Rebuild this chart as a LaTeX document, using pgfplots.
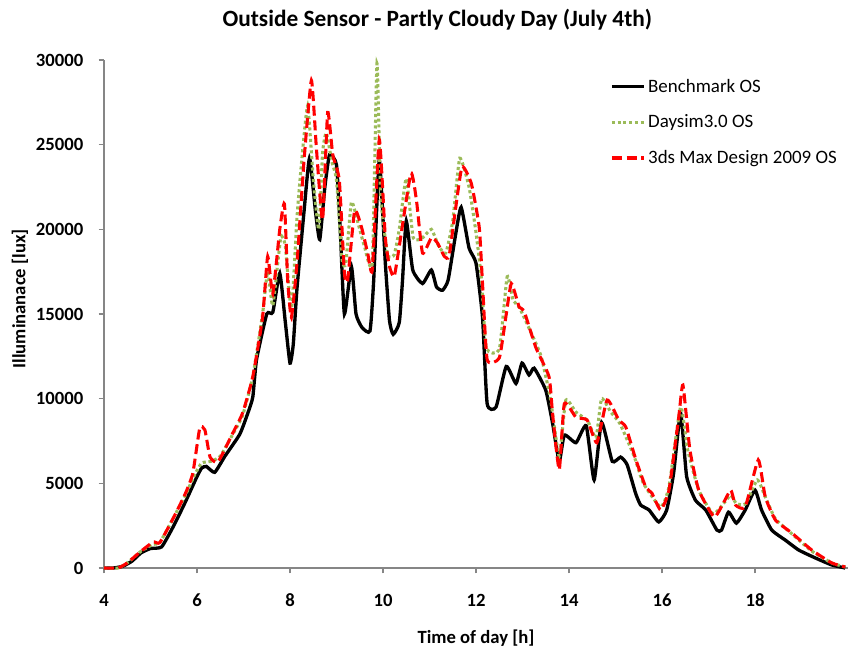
\documentclass[border=0pt]{standalone}
\usepackage{pgfplots}
\pgfplotsset{compat=1.18}
\usepackage{fontspec}
\setmainfont{Carlito}
\definecolor{dgreen}{RGB}{155,187,89}
\definecolor{axgray}{RGB}{134,134,134}
\begin{document}
\begin{tikzpicture}
\useasboundingbox (0pt,0pt) rectangle (636pt,486.75pt);
\begin{axis}[
  at={(78pt,60.75pt)}, anchor=south west, scale only axis,
  width=558pt, height=381pt,
  xmin=4, xmax=20, ymin=0, ymax=30000,
  axis x line*=bottom, axis y line*=left,
  axis line style={draw=axgray, line width=1.1pt},
  tick align=outside, major tick length=4pt,
  every tick/.style={draw=axgray, line width=1pt},
  xtick={4,6,...,18}, ytick={0,5000,...,30000},
  scaled y ticks=false,
  yticklabel style={/pgf/number format/fixed, /pgf/number format/1000 sep={}, xshift=-8pt},
  xticklabel style={yshift=-12pt},
  /pgf/number format/assume math mode=true,
  ticklabel style={font=\bfseries\fontsize{14}{16}\selectfont},
  clip=false,
  legend style={draw=none, fill=none, at={(0.680,0.9685)}, anchor=north west,
    inner sep=0pt, font=\fontsize{14.2}{16}\selectfont, row sep=11.5pt,
    legend cell align=left},
  legend image code/.code={\draw[#1] (0pt,0pt) -- (24pt,0pt);},
]
\addplot[black, line width=2.5pt, smooth, tension=0.3] coordinates {
(4.0,0)(4.2,0)(4.4,100)(4.6,400)(4.8,900)(5.0,1150)(5.24,1250)(5.5,2500)(5.75,3900)
(6.0,5400)(6.1,5900)(6.2,6000)(6.38,5650)(6.6,6600)(6.92,7900)(7.1,9200)(7.2,10100)
(7.28,12300)(7.5,15000)(7.63,15100)(7.78,17400)(7.9,14500)(8.0,12100)(8.07,13200)
(8.15,16500)(8.3,21000)(8.42,24200)(8.55,21000)(8.64,19400)(8.75,22500)(8.85,24400)
(9.0,23800)(9.08,20000)(9.17,15000)(9.32,17800)(9.42,15000)(9.55,14200)(9.72,14000)
(9.8,17000)(9.92,24100)(10.05,18000)(10.14,14600)(10.22,13800)(10.35,14500)(10.42,17000)
(10.5,20500)(10.64,17600)(10.85,16800)(11.04,17600)(11.15,16600)(11.28,16400)(11.4,17000)
(11.55,19500)(11.68,21300)(11.85,18900)(12.0,18000)(12.14,14800)(12.24,9700)(12.43,9500)
(12.65,11900)(12.86,10900)(12.99,12100)(13.14,11400)(13.25,11800)(13.5,10500)(13.65,8500)
(13.79,6300)(13.9,7850)(14.15,7400)(14.37,8400)(14.54,5200)(14.7,8600)(14.93,6300)
(15.11,6550)(15.25,6100)(15.43,4430)(15.54,3720)(15.72,3430)(15.93,2720)(16.1,3420)
(16.25,5600)(16.4,9150)(16.53,5400)(16.72,4000)(16.94,3430)(17.18,2240)(17.28,2240)
(17.43,3300)(17.6,2650)(17.79,3430)(18.0,4600)(18.14,3430)(18.36,2240)(18.65,1650)
(18.94,1060)(19.3,590)(19.65,180)(19.94,0)
};
\addlegendentry{Benchmark OS}
\addplot[dgreen, line width=2.3pt, dotted, smooth, tension=0.3] coordinates {
(4.0,0)(4.3,0)(4.5,300)(4.8,1000)(5.06,1400)(5.2,1500)(5.5,3000)(5.75,4300)(5.95,5500)
(6.1,6200)(6.3,6300)(6.5,6600)(6.77,7900)(6.98,9000)(7.2,11300)(7.41,15000)(7.52,17500)
(7.63,15500)(7.8,19500)(7.9,19000)(8.03,15200)(8.15,20700)(8.25,24000)(8.38,27300)
(8.5,23000)(8.62,20000)(8.7,24500)(8.78,25700)(8.9,24000)(9.0,22900)(9.12,18200)
(9.2,18000)(9.32,21600)(9.45,20500)(9.6,19000)(9.77,18000)(9.87,29800)(9.95,22000)
(10.1,18500)(10.24,18500)(10.35,20000)(10.5,23000)(10.65,19500)(10.85,19500)(11.04,20000)
(11.2,19000)(11.35,18600)(11.5,20500)(11.65,24200)(11.85,22500)(12.0,19800)(12.12,17000)
(12.22,13000)(12.5,12900)(12.67,17200)(12.8,15800)(12.93,15400)(13.2,13800)(13.4,12500)
(13.6,10000)(13.79,6600)(13.93,9900)(14.15,9200)(14.4,8700)(14.58,7700)(14.7,10000)
(14.9,9200)(15.1,8500)(15.4,6600)(15.6,5000)(15.97,3600)(16.15,4800)(16.4,9500)
(16.55,7000)(16.79,4600)(17.1,3200)(17.35,3900)(17.48,4300)(17.6,3800)(17.8,3800)
(18.05,5200)(18.22,4200)(18.44,2900)(18.8,2000)(19.22,1000)(19.65,300)(19.94,60)
};
\addlegendentry{Daysim3.0 OS}
\addplot[red, line width=2.3pt, dash pattern=on 7.5pt off 3.5pt, smooth, tension=0.3] coordinates {
(4.0,0)(4.3,0)(4.5,300)(4.8,1000)(5.06,1540)(5.2,1500)(5.5,3000)(5.75,4400)(5.91,5600)
(6.06,8270)(6.17,8150)(6.28,6560)(6.45,6260)(6.77,7970)(6.98,9150)(7.2,11300)(7.41,14800)
(7.52,18400)(7.63,16200)(7.78,20000)(7.88,21500)(7.95,17000)(8.03,14800)(8.15,18000)
(8.3,24000)(8.46,28800)(8.57,24700)(8.7,20550)(8.81,26900)(8.92,24400)(9.06,22900)
(9.17,17400)(9.24,17000)(9.39,21100)(9.54,20100)(9.67,18600)(9.77,17600)(9.92,25300)
(10.05,19500)(10.14,17800)(10.24,17200)(10.35,19000)(10.6,23300)(10.72,21700)(10.85,18600)
(11.04,19500)(11.17,19200)(11.32,18400)(11.42,18400)(11.55,21000)(11.7,23700)(11.9,22700)
(12.07,20100)(12.14,16800)(12.24,12300)(12.5,12400)(12.64,14800)(12.76,16800)(12.93,15400)
(13.03,15200)(13.29,13000)(13.57,11300)(13.65,9000)(13.79,5800)(13.9,9700)(14.15,8900)
(14.39,8740)(14.6,7400)(14.82,9920)(15.07,8740)(15.22,8330)(15.44,6380)(15.65,4780)
(15.78,4430)(15.97,3430)(16.15,4600)(16.36,8920)(16.45,10800)(16.6,6970)(16.79,4600)
(17.12,3020)(17.32,3840)(17.48,4600)(17.58,3720)(17.79,3600)(18.07,6380)(18.22,4200)
(18.44,2830)(18.79,2070)(19.22,1060)(19.65,300)(19.94,60)
};
\addlegendentry{3ds Max Design 2009 OS}
\node[font=\bfseries\fontsize{17.5}{20}\selectfont] at (rel axis cs:0.448,1.079) {Outside Sensor - Partly Cloudy Day (July 4th)};
\node[font=\bfseries\fontsize{14}{16}\selectfont] at (rel axis cs:0.5,-0.138) {Time of day [h]};
\node[font=\bfseries\fontsize{14}{16}\selectfont, rotate=90] at (rel axis cs:-0.113,0.53) {Illuminanace [lux]};
\end{axis}
\end{tikzpicture}
\end{document}
